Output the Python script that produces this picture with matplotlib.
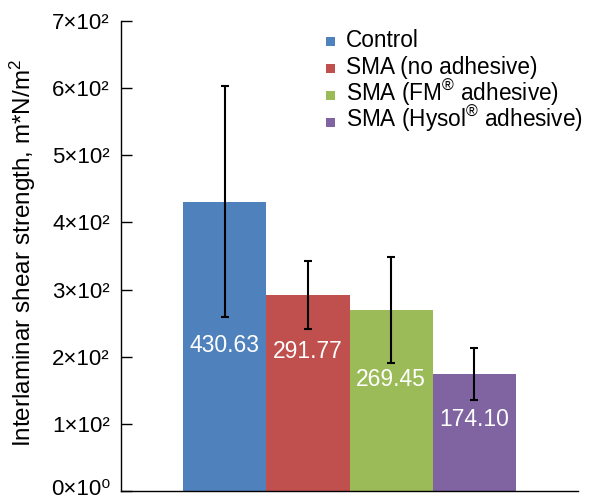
import matplotlib
matplotlib.use("Agg")
import matplotlib.pyplot as plt
from matplotlib.patches import Rectangle
from matplotlib.transforms import ScaledTranslation

plt.rcParams['font.family'] = ['Liberation Sans', 'DejaVu Sans']
plt.rcParams['mathtext.fontset'] = 'custom'
plt.rcParams['mathtext.rm'] = 'Liberation Sans'
plt.rcParams['mathtext.it'] = 'Liberation Sans'
plt.rcParams['mathtext.default'] = 'regular'

categories = ['Control', 'SMA (no adhesive)', 'SMA (FM$^{®}$ adhesive)', 'SMA (Hysol$^{®}$ adhesive)']
values = [430.63, 291.77, 269.45, 174.10]
errors = [172, 51, 79.5, 39.2]
value_labels = ['430.63', '291.77', '269.45', '174.10']
label_baseline = [207.7, 197.8, 156.6, 97]
ytick_vals = [0, 100, 200, 300, 400, 500, 600, 700]
ytick_labels = ['0×10⁰', '1×10²', '2×10²', '3×10²', '4×10²', '5×10²', '6×10²', '7×10²']
colors = ['#4F81BD', '#C0504D', '#9BBB59', '#8064A2']

W, H = 595, 499
fig = plt.figure(figsize=(W / 100, H / 100), dpi=100)
ax_l, ax_b, ax_w, ax_h = 121, 8, 457, 470
ax = fig.add_axes([ax_l / W, ax_b / H, ax_w / W, ax_h / H])

x = list(range(len(values)))
ax.bar(x, values, width=1.0, color=colors, yerr=errors,
       error_kw=dict(ecolor='black', elinewidth=1.5, capsize=3, capthick=1.5))
for xi, lab, ly in zip(x, value_labels, label_baseline):
    ax.text(xi, ly, lab, color='white', ha='center', va='baseline', fontsize=16.5)

ax.set_xlim(-1.25, 4.25)
ax.set_ylim(0, 700)
ax.set_yticks(ytick_vals)
ax.set_yticklabels(ytick_labels, fontsize=16)
ax.set_xticks([])
ax.tick_params(axis='y', direction='in', length=8, width=1, pad=8)
# lift the bottom tick label slightly so it stays inside the figure
lbl0 = ax.get_yticklabels()[0]
lbl0.set_transform(lbl0.get_transform() + ScaledTranslation(0, 4 / 100, fig.dpi_scale_trans))
for s in ['top', 'right']:
    ax.spines[s].set_visible(False)
ax.spines['left'].set_linewidth(1)
ax.spines['bottom'].set_linewidth(1)
ax.set_ylabel('Interlaminar shear strength, m*N/m$^{2}$', fontsize=17.5)
ax.yaxis.set_label_coords(-0.182, 0.507)

# legend (drawn row by row for uniform spacing)
def fx(px):
    return (px - ax_l) / ax_w

def fy(py):
    return (H - ax_b - py) / ax_h

row0_base, row_step = 46.7, 26.9
sq = 9
for i, (lab, c) in enumerate(zip(categories, colors)):
    base = row0_base + i * row_step
    ax.add_patch(Rectangle((fx(326), fy(base - 0.3)), sq / ax_w, sq / ax_h,
                           transform=ax.transAxes, facecolor=c, edgecolor='none',
                           clip_on=False))
    ax.text(fx(345.5), fy(base), lab, transform=ax.transAxes, fontsize=16.3,
            ha='left', va='baseline', color='black')

fig.savefig('out.png', dpi=100)
